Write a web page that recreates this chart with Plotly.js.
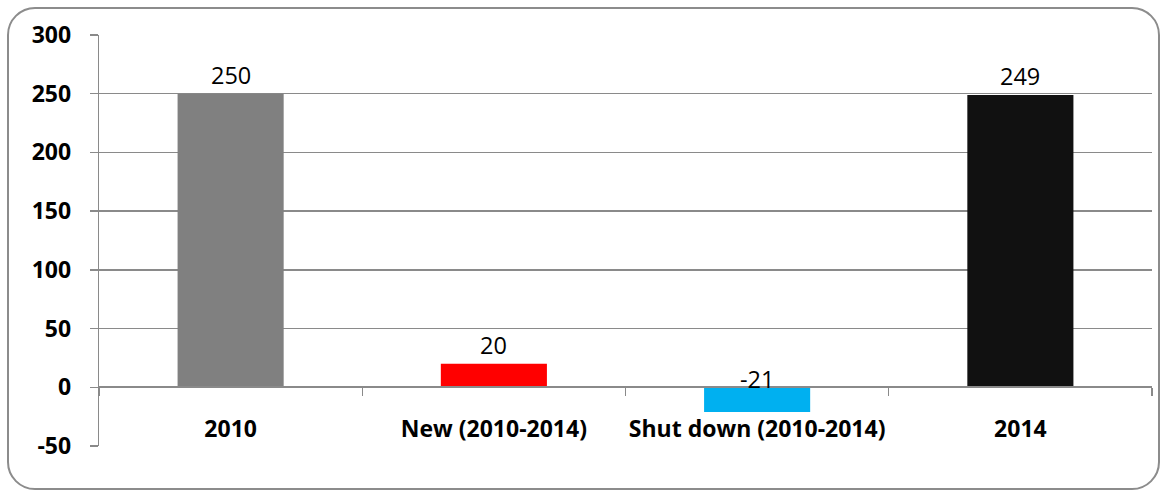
<!DOCTYPE html>
<html>
<head>
<meta charset="utf-8">
<script src="https://cdn.plot.ly/plotly-3.0.1.min.js"></script>
<style>
  html, body { margin: 0; padding: 0; background: #ffffff; }
  #frame {
    position: absolute; left: 7px; top: 7px; width: 1153px; height: 483px;
    box-sizing: border-box; border: 2px solid #8c8c8c; border-radius: 28px;
    pointer-events: none;
  }
  #chart { position: absolute; left: 0; top: 0; width: 1161px; height: 490px; }
</style>
</head>
<body>
<div id="chart"></div>
<div id="frame"></div>
<script>
// Plant counts: stock in 2010, openings and closures over the period, stock in 2014
const categories = ['2010', 'New (2010-2014)', 'Shut down (2010-2014)', '2014'];
const values = [250, 20, -21, 249];
const barColors = ['#808080', '#FF0000', '#00B0F0', '#111111'];
const yTicks = [-50, 0, 50, 100, 150, 200, 250, 300];

const yMin = -50, yMax = 300;
const lineGray = '#8a8a8a';
const labelFont = { family: '"Open Sans", Lato, sans-serif', size: 23.5, color: '#000000' };
const axisFont = { family: '"Open Sans", Lato, sans-serif', size: 23, color: '#000000', weight: 'bold' };

const trace = {
  type: 'bar',
  x: categories,
  y: values,
  marker: { color: barColors, line: { width: 0 } },
  hoverinfo: 'x+y'
};

// value labels sit on the outer end of positive bars and on the base of negative ones;
// x is given as the category index so year-like names are not read as numbers
const valueLabels = categories.map((c, i) => ({
  x: i,
  y: Math.max(values[i], 0),
  xref: 'x', yref: 'y',
  yanchor: 'bottom',
  yshift: values[i] >= 0 ? 1 : -10,
  text: String(values[i]),
  showarrow: false,
  font: labelFont
}));

const layout = {
  width: 1161, height: 490,
  margin: { l: 99, r: 9, t: 35, b: 44, pad: 0 },
  paper_bgcolor: 'rgba(0,0,0,0)',
  plot_bgcolor: 'rgba(0,0,0,0)',
  showlegend: false,
  bargap: 0.597,
  xaxis: {
    type: 'category',
    range: [-0.5, categories.length - 0.5],
    anchor: 'free',
    position: (0 - yMin) / (yMax - yMin),
    showline: true, linecolor: lineGray, linewidth: 2,
    ticks: 'outside', tickson: 'boundaries', ticklen: 8, tickwidth: 1.3, tickcolor: lineGray,
    showgrid: false, zeroline: false,
    tickangle: 0,
    tickfont: axisFont,
    ticklabelstandoff: 21
  },
  yaxis: {
    range: [yMin, yMax],
    tickvals: yTicks,
    ticktext: yTicks.map(String),
    showgrid: true, gridcolor: lineGray, gridwidth: 1.3,
    showline: true, linecolor: lineGray, linewidth: 1.3,
    ticks: 'outside', ticklen: 8, tickwidth: 1.3, tickcolor: lineGray,
    zeroline: false,
    tickfont: axisFont,
    ticklabelstandoff: 14
  },
  annotations: valueLabels
};

Plotly.newPlot('chart', [trace], layout, { displayModeBar: false, staticPlot: true });
</script>
</body>
</html>
